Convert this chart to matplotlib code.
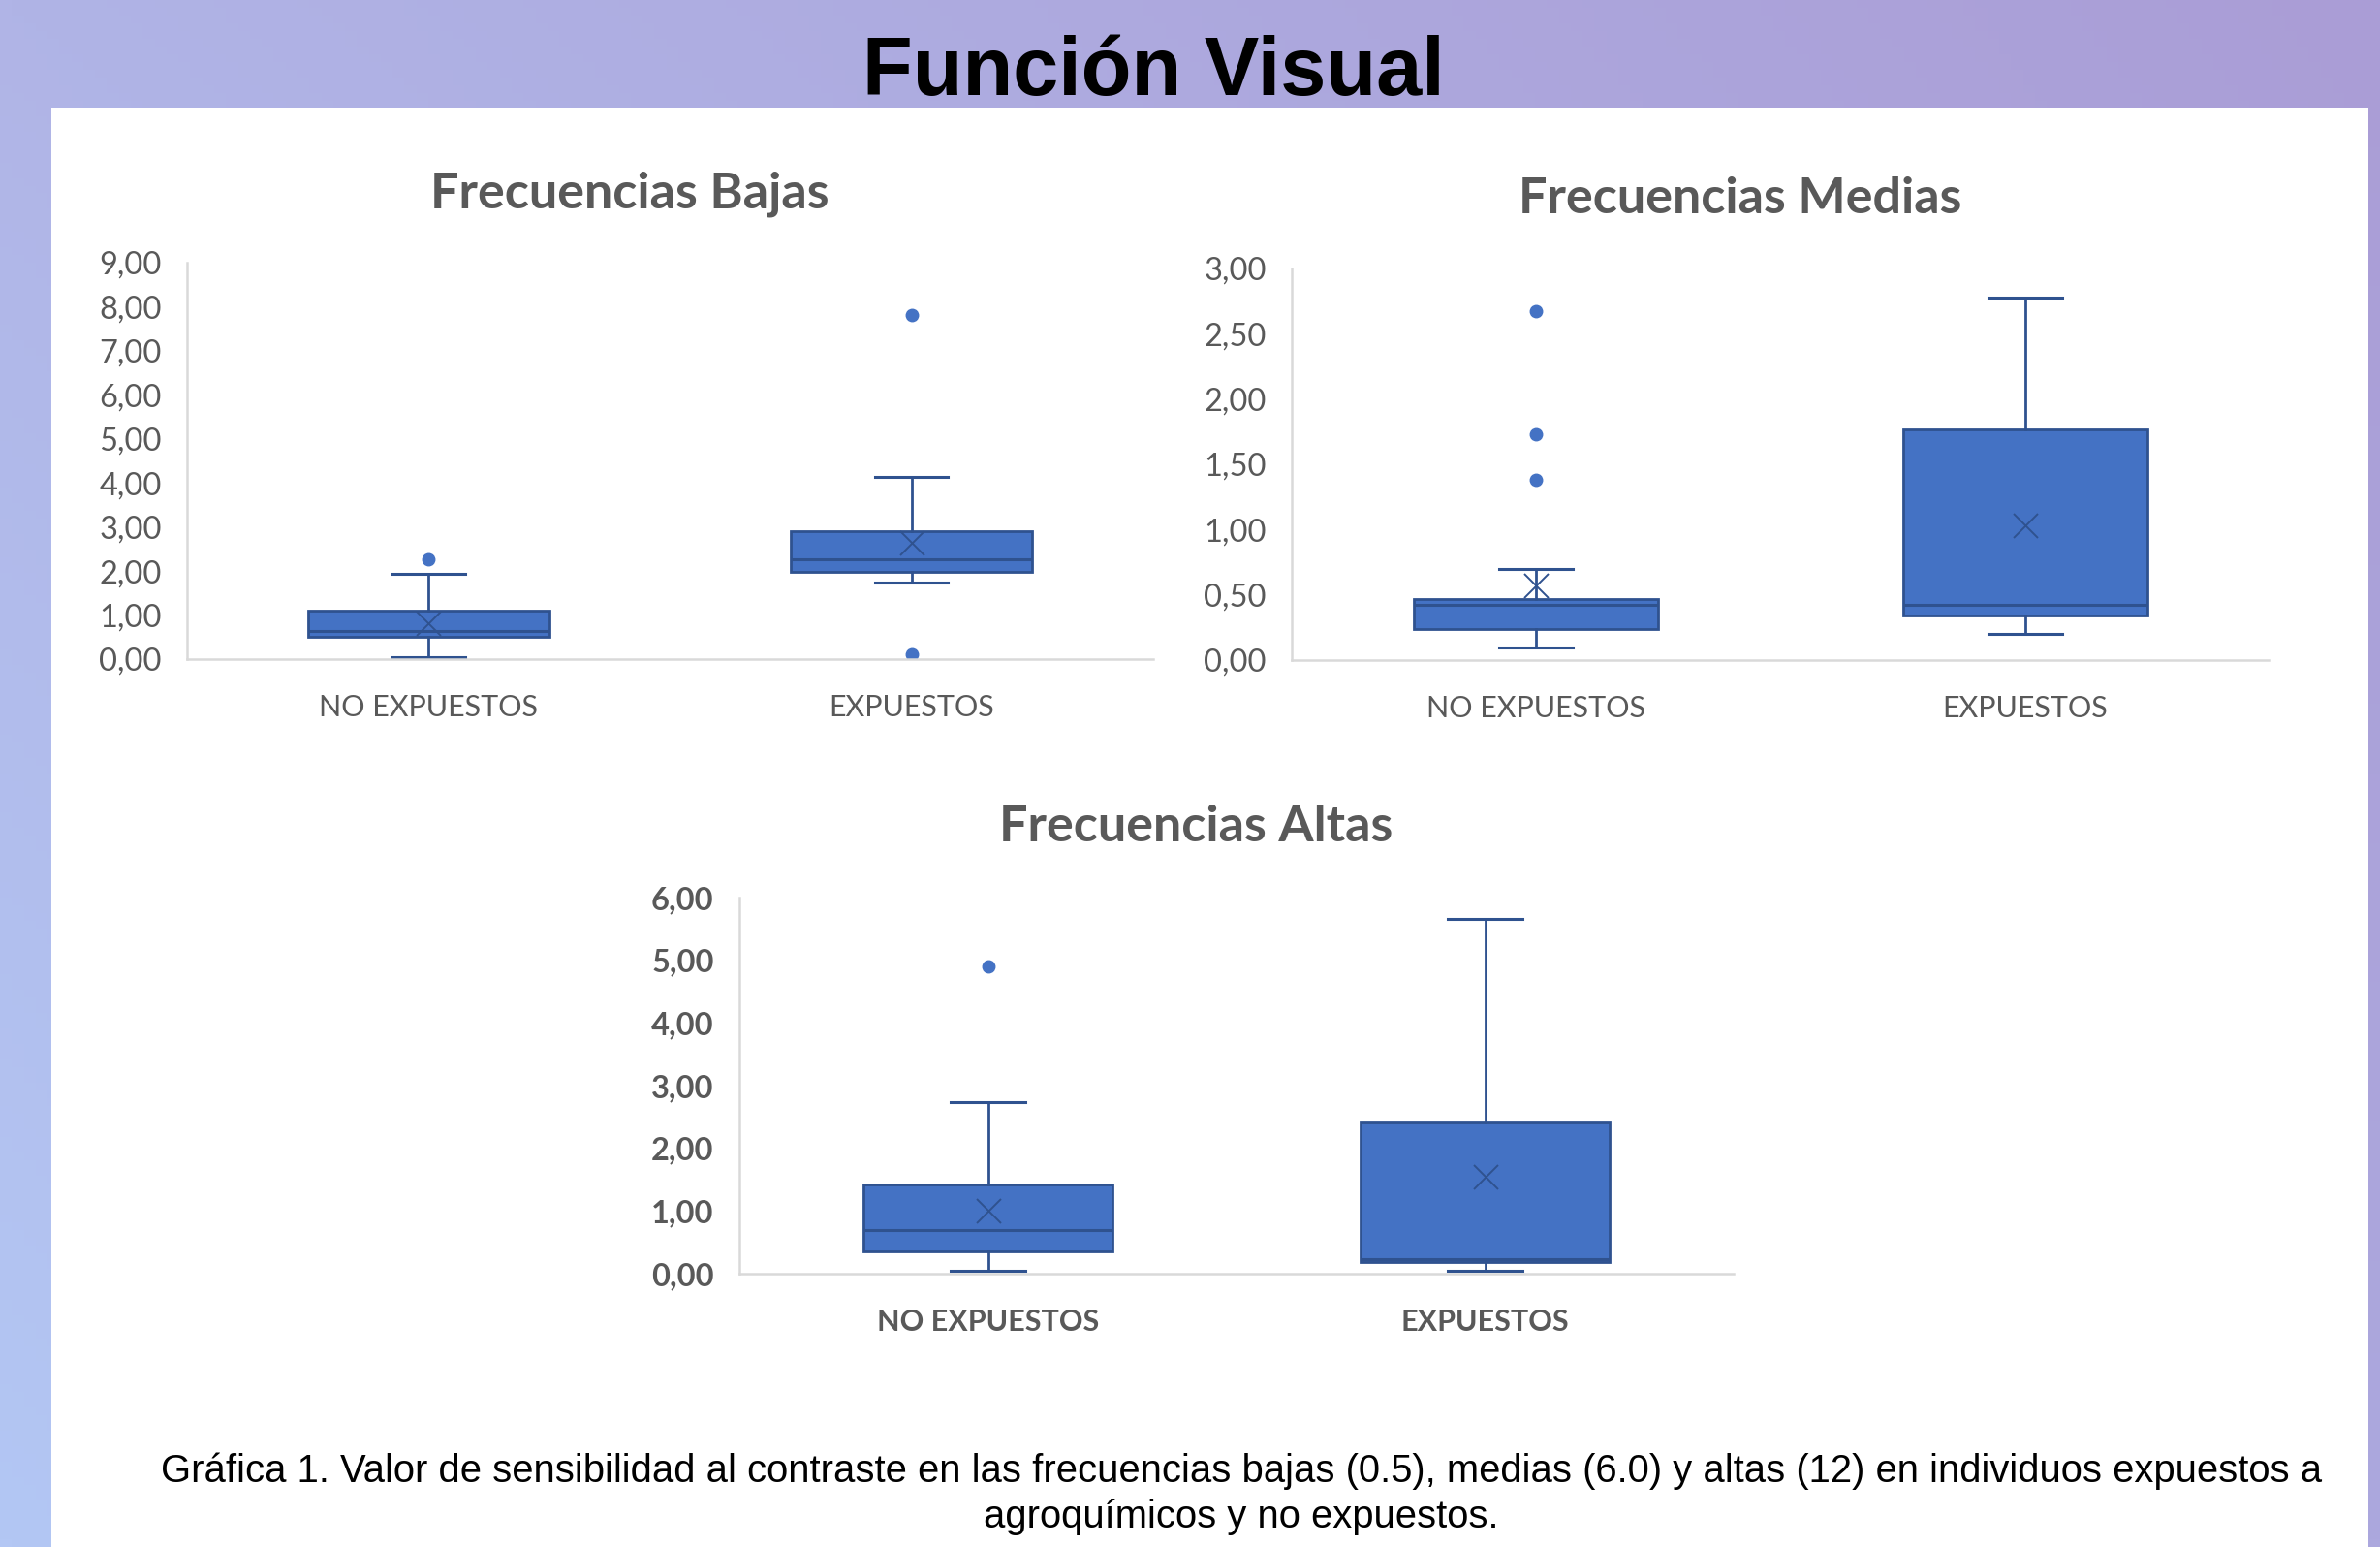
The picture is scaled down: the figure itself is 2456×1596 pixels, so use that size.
import numpy as np
import matplotlib
matplotlib.use("Agg")
import matplotlib.pyplot as plt
from matplotlib.patches import Rectangle
from matplotlib.ticker import FuncFormatter, MultipleLocator

# Datos
categorias = ["NO EXPUESTOS", "EXPUESTOS"]

# Frecuencias Bajas (0.5)
bajas_min = [0.05, 1.73]
bajas_q1 = [0.50, 1.99]
bajas_med = [0.64, 2.27]
bajas_q3 = [1.10, 2.91]
bajas_max = [1.93, 4.13]
bajas_media = [0.82, 2.63]
bajas_atipicos = [[2.26], [7.82, 0.12]]

# Frecuencias Medias (6.0)
medias_min = [0.10, 0.20]
medias_q1 = [0.24, 0.34]
medias_med = [0.42, 0.42]
medias_q3 = [0.47, 1.77]
medias_max = [0.70, 2.78]
medias_media = [0.57, 1.03]
medias_atipicos = [[2.67, 1.73, 1.38], []]

# Frecuencias Altas (12)
altas_min = [0.04, 0.04]
altas_q1 = [0.36, 0.18]
altas_med = [0.69, 0.23]
altas_q3 = [1.42, 2.41]
altas_max = [2.73, 5.66]
altas_media = [1.00, 1.55]
altas_atipicos = [[4.90], []]

W, H = 2456, 1596
fig = plt.figure(figsize=(W / 100, H / 100), dpi=100)

# fondo degradado + panel blanco
bg = fig.add_axes([0, 0, 1, 1], zorder=-10)
tl = np.array([176, 180, 230]) / 255
tr = np.array([170, 157, 214]) / 255
bl = np.array([179, 199, 244]) / 255
br = np.array([172, 168, 222]) / 255
u = np.linspace(0, 1, 200)[None, :, None]
v = np.linspace(0, 1, 200)[:, None, None]
grad = (1 - v) * ((1 - u) * tl + u * tr) + v * ((1 - u) * bl + u * br)
bg.imshow(grad, extent=[0, 1, 0, 1], aspect="auto", origin="upper")
bg.add_patch(Rectangle((53 / W, 0), (2444 - 53) / W, (H - 111) / H,
                       transform=bg.transAxes, facecolor="white", edgecolor="none"))
bg.set_xlim(0, 1)
bg.set_ylim(0, 1)
bg.axis("off")

fig.text(1190 / W, 1 - 98 / H, "Función Visual", ha="center", va="baseline",
         fontsize=61, fontweight="bold", family=["Liberation Sans", "DejaVu Sans"], color="black")

azul = "#4472C4"
borde = "#2F528F"
gris = "#595959"
coma = FuncFormatter(lambda y, _: f"{y:.2f}".replace(".", ","))


def caja(rect, mins, q1s, meds, q3s, maxs, medias, atipicos, ymax, paso, negrita):
    ax = fig.add_axes(rect)
    stats = []
    for i in range(len(categorias)):
        stats.append(dict(med=meds[i], q1=q1s[i], q3=q3s[i], whislo=mins[i], whishi=maxs[i],
                          mean=medias[i], fliers=atipicos[i], label=categorias[i]))
    ax.bxp(stats, positions=[1, 2], widths=0.5, capwidths=0.15, patch_artist=True,
           showmeans=True,
           boxprops=dict(facecolor=azul, edgecolor=borde, linewidth=2.0),
           medianprops=dict(color=borde, linewidth=2.2),
           whiskerprops=dict(color=borde, linewidth=2.0),
           capprops=dict(color=borde, linewidth=2.2),
           meanprops=dict(marker="x", markeredgecolor=borde, markersize=18, markeredgewidth=1.4),
           flierprops=dict(marker="o", markerfacecolor=azul, markeredgecolor=azul, markersize=9))
    ax.set_xlim(0.5, 2.5)
    ax.set_ylim(0, ymax)
    ax.yaxis.set_major_locator(MultipleLocator(paso))
    ax.yaxis.set_major_formatter(coma)
    for s in ["top", "right"]:
        ax.spines[s].set_visible(False)
    for s in ["left", "bottom"]:
        ax.spines[s].set_color("#D9D9D9")
        ax.spines[s].set_linewidth(1.8)
    peso = "bold" if negrita else "normal"
    ax.tick_params(axis="both", length=0, colors=gris)
    ax.tick_params(axis="x", pad=26)
    ax.tick_params(axis="y", pad=19)
    for t in ax.get_xticklabels():
        t.set_fontfamily(["Lato", "DejaVu Sans"])
        t.set_fontsize(22)
        t.set_fontweight(peso)
    for t in ax.get_yticklabels():
        t.set_fontfamily(["Lato", "DejaVu Sans"])
        t.set_fontsize(23.5)
        t.set_fontweight(peso)
    ax.set_facecolor("none")
    return ax


caja([193 / W, 1 - 680 / H, (1190 - 193) / W, (680 - 271) / H],
     bajas_min, bajas_q1, bajas_med, bajas_q3, bajas_max, bajas_media, bajas_atipicos, 9, 1, False)
caja([1333 / W, 1 - 681 / H, (2342 - 1333) / W, (681 - 277) / H],
     medias_min, medias_q1, medias_med, medias_q3, medias_max, medias_media, medias_atipicos, 3, 0.5, False)
caja([763 / W, 1 - 1314 / H, (1789 - 763) / W, (1314 - 926) / H],
     altas_min, altas_q1, altas_med, altas_q3, altas_max, altas_media, altas_atipicos, 6, 1, True)

tit = dict(ha="center", va="center", fontsize=37.5, fontweight="bold", color=gris,
           family=["Lato", "DejaVu Sans"])
fig.text(650 / W, 1 - 200 / H, "Frecuencias Bajas", **tit)
fig.text(1796 / W, 1 - 205 / H, "Frecuencias Medias", **tit)
fig.text(1234 / W, 1 - 854 / H, "Frecuencias Altas", **tit)

cap = dict(ha="center", va="center", fontsize=28.8, color="black",
           family=["Liberation Sans", "DejaVu Sans"])
fig.text(1281 / W, 1 - 1518 / H,
         "Gráfica 1. Valor de sensibilidad al contraste en las frecuencias bajas (0.5), medias (6.0) "
         "y altas (12) en individuos expuestos a", **cap)
fig.text(1281 / W, 1 - 1565 / H, "agroquímicos y no expuestos.", **cap)

fig.savefig("out.png", dpi=100)
